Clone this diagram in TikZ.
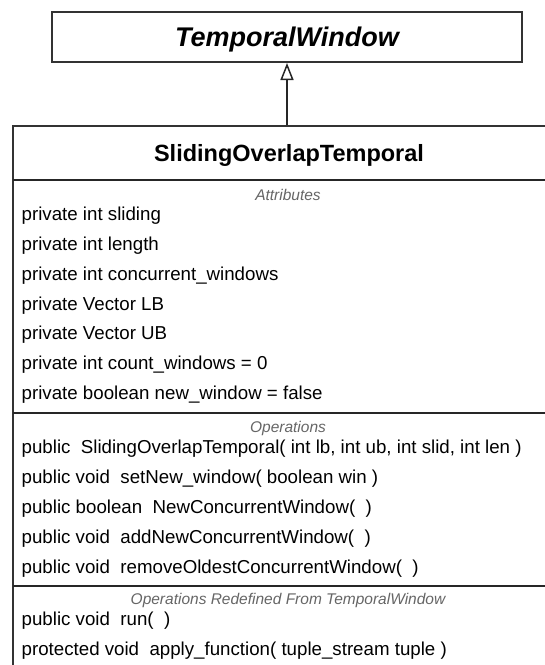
\documentclass[tikz,border=0pt]{standalone}
\usepackage{fontspec}
\setmainfont{Liberation Sans}
\usetikzlibrary{arrows.meta}

\tikzset{
    classbox/.style={draw=black!80, line width=2pt, fill=white, inner sep=0pt},
    sepline/.style={draw=black!85, line width=2pt},
    member/.style={anchor=base west, inner sep=0pt, font=\fontsize{18.7}{20}\selectfont},
    section/.style={anchor=base, inner sep=0pt, text=black!60, font=\fontsize{15.5}{17}\selectfont\itshape},
    inherit/.style={line width=1.5pt, draw=black!85, -{Triangle[open, length=17pt, width=13pt, line width=1.5pt]}}
}

\begin{document}
\begin{tikzpicture}[x=1pt, y=-1pt]
    \useasboundingbox (0,0) rectangle (545,665);
    \clip (0,0) rectangle (545,665);

    % superclass
    \node[classbox, minimum width=470pt, minimum height=50pt] (temporal) at (287,37) {};
    \node[anchor=base, inner sep=0pt, font=\fontsize{27}{30}\selectfont\bfseries\itshape] (temporalname) at (287,46) {TemporalWindow};

    % subclass, runs off the page on the right and bottom
    \node[classbox, anchor=north west, minimum width=548pt, minimum height=600pt] (sliding) at (12,125) {};
    \node[anchor=base, inner sep=0pt, font=\fontsize{23.5}{26}\selectfont\bfseries] (slidingname) at (289,161) {SlidingOverlapTemporal};

    \draw[inherit] (sliding.north -| temporal.south) -- (temporal.south);

    \foreach \y in {180, 413, 586} {
        \draw[sepline] (13,\y) -- (563,\y);
    }

    \node[section] (attrlabel) at (288,200) {Attributes};
    \node[section] (oplabel) at (288,432) {Operations};
    \node[section] (redeflabel) at (288,604) {Operations Redefined From TemporalWindow};

    \foreach \i/\txt in {0/private int sliding, 1/private int length, 2/private int concurrent\_windows,
                         3/private Vector LB, 4/private Vector UB, 5/private int count\_windows = 0,
                         6/private boolean new\_window = false} {
        \node[member] (attr\i) at (21.5, 220.7+29.8*\i) {\txt};
    }

    \foreach \i/\txt in {0/{public\ \ SlidingOverlapTemporal( int lb, int ub, int slid, int len )},
                         1/{public void\ \ setNew\_window( boolean win )},
                         2/{public boolean\ \ NewConcurrentWindow(\ \ )},
                         3/{public void\ \ addNewConcurrentWindow(\ \ )},
                         4/{public void\ \ removeOldestConcurrentWindow(\ \ )}} {
        \node[member] (op\i) at (21.5, 453+30.2*\i) {\txt};
    }

    \foreach \i/\txt in {0/{public void\ \ run(\ \ )},
                         1/{protected void\ \ apply\_function( tuple\_stream tuple )}} {
        \node[member] (redef\i) at (21.5, 625+30*\i) {\txt};
    }
\end{tikzpicture}
\end{document}
